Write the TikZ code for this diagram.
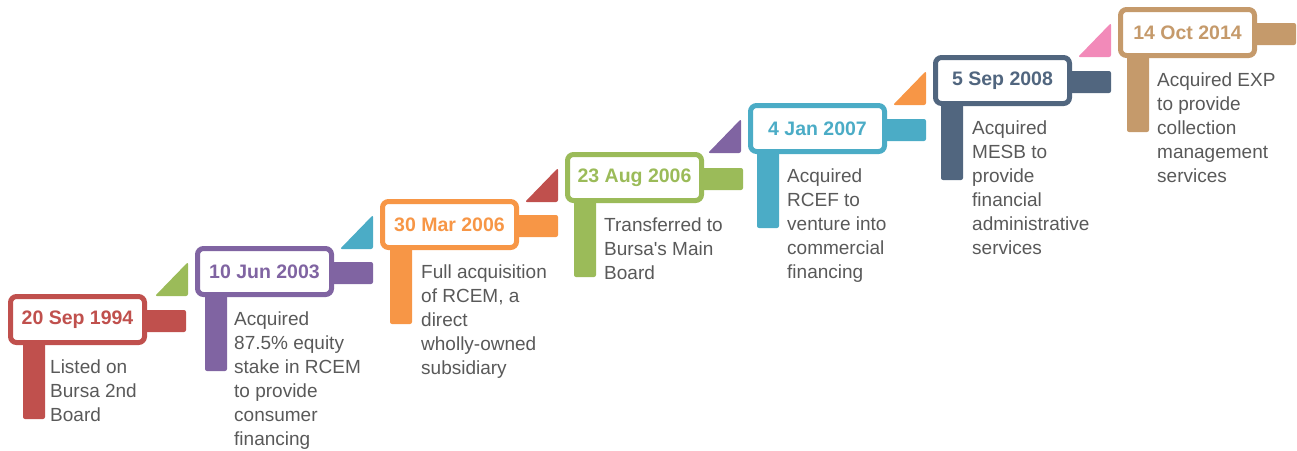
\documentclass[tikz,border=0pt]{standalone}
\usepackage{fontspec}
\setmainfont{Liberation Sans}
\definecolor{cRed}{HTML}{C0504D}
\definecolor{cPurple}{HTML}{8064A2}
\definecolor{cOrange}{HTML}{F79646}
\definecolor{cGreen}{HTML}{9BBB59}
\definecolor{cTeal}{HTML}{4BACC6}
\definecolor{cSlate}{HTML}{51667F}
\definecolor{cTan}{HTML}{C59A6B}
\definecolor{cPink}{HTML}{F28AB9}
\definecolor{cText}{HTML}{595959}
\begin{document}
\begin{tikzpicture}[x=1pt,y=-1pt,
  datebox/.style={rectangle, minimum width=134pt, minimum height=46pt, line width=5pt,
    rounded corners=6pt, fill=white, inner sep=0pt,
    font=\bfseries\fontsize{19.5}{22}\selectfont},
  desctext/.style={anchor=north west, inner sep=0pt, align=left, text=cText,
    font=\fontsize{19}{24}\selectfont},
  bar/.style={rounded corners=2pt},
  tri/.style={rounded corners=2pt}]
\useasboundingbox (0,0) rectangle (1297,450);
% triangles
\foreach \X/\Y/\col in {195/246/cGreen, 380/199/cTeal, 565/152/cRed, 748/103/cPurple, 933/55/cOrange, 1118/7/cPink}
{
  \fill[tri, \col] (\X-7,\Y+16) -- (\X-7,\Y+50) -- (\X-40,\Y+50) -- cycle;
}
\foreach \i/\X/\Y/\col/\bo/\to/\date/\desc in {
  1/8/294/cRed/15/42/{20 Sep 1994}/{Listed on\\Bursa 2nd\\Board},
  2/195/246/cPurple/10/39/{10 Jun 2003}/{Acquired\\87.5\% equity\\stake in RCEM\\to provide\\consumer\\financing},
  3/380/199/cOrange/10/41/{30 Mar 2006}/{Full acquisition\\of RCEM, a\\direct\\wholly-owned\\subsidiary},
  4/565/152/cGreen/9/39/{23 Aug 2006}/{Transferred to\\Bursa\textquotesingle s Main\\Board},
  5/748/103/cTeal/9/39/{4 Jan 2007}/{Acquired\\RCEF to\\venture into\\commercial\\financing},
  6/933/55/cSlate/8/39/{5 Sep 2008}/{Acquired\\MESB to\\provide\\financial\\administrative\\services},
  7/1118/7/cTan/9/39/{14 Oct 2014}/{Acquired EXP\\to provide\\collection\\management\\services}}
{
  \fill[bar, \col] (\X+134,\Y+16) rectangle (\X+178,\Y+38);
  \fill[bar, \col] (\X+\bo,\Y+45) rectangle (\X+\bo+22,\Y+125);
  \node[datebox, draw=\col, text=\col] (box\i) at (\X+69.5,\Y+25.5) {\date};
  \node[desctext] (desc\i) at (\X+\to,\Y+65.5) {\desc};
}
\end{tikzpicture}
\end{document}
